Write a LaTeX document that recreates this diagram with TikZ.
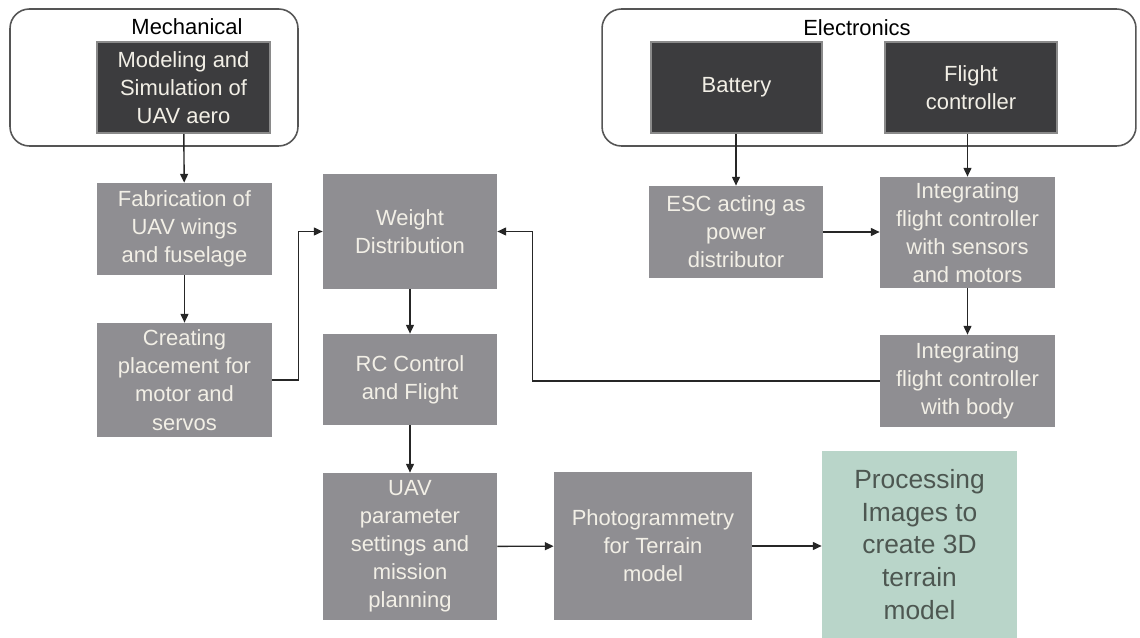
\documentclass[tikz,border=0pt]{standalone}
\usepackage{fontspec}
\setmainfont{Liberation Sans}
\usepackage{tikz}
\usetikzlibrary{arrows.meta,positioning}
\definecolor{boxgrey}{HTML}{8F8E92}
\definecolor{darkfill}{HTML}{3C3C3E}
\definecolor{darkedge}{HTML}{8A8A8A}
\definecolor{boxtext}{HTML}{F2EFE6}
\definecolor{groupline}{HTML}{555555}
\definecolor{procfill}{HTML}{B9D5C9}
\definecolor{proctext}{HTML}{4D5751}

\begin{document}
\begin{tikzpicture}[x=0.02cm,y=-0.02cm,
    group/.style={draw=groupline, line width=0.9pt, rounded corners=11pt},
    darkbox/.style={fill=darkfill, draw=darkedge, line width=1.2pt, text=boxtext, align=center, inner sep=0pt, font=\fontsize{12.5}{16}\selectfont},
    box/.style={fill=boxgrey, text=boxtext, align=center, inner sep=0pt, font=\fontsize{12.5}{16}\selectfont},
    arr/.style={-{Triangle[length=5pt,width=4.5pt]}, line width=0.8pt, black!85}]
    \useasboundingbox (0,0) rectangle (1140,638);
    \node[group, minimum width=5.76cm, minimum height=2.74cm] (mech) at (154,77.5) {};
    \node[group, minimum width=10.68cm, minimum height=2.74cm] (elec) at (869,77.5) {};
    \node[font=\fontsize{12.5}{16}\selectfont] (mechlabel) at (187,27) {Mechanical};
    \node[font=\fontsize{12.5}{16}\selectfont] (eleclabel) at (857,28) {Electronics};
    \node[darkbox, minimum width=3.46cm, minimum height=1.82cm] (model) at (183.5,87.5) {Modeling and\\Simulation of\\UAV aero};
    \node[darkbox, minimum width=3.42cm, minimum height=1.82cm] (battery) at (736.5,87.5) {Battery};
    \node[darkbox, minimum width=3.44cm, minimum height=1.82cm] (flight) at (971,87.5) {Flight\\controller};
    \node[box, minimum width=3.5cm, minimum height=1.84cm] (fab) at (184.5,229) {Fabrication of\\UAV wings\\and fuselage};
    \node[box, minimum width=3.5cm, minimum height=2.28cm] (create) at (184.5,380) {Creating\\placement for\\motor and\\servos};
    \node[box, minimum width=3.48cm, minimum height=2.3cm] (weight) at (410,231.5) {Weight\\Distribution};
    \node[box, minimum width=3.48cm, minimum height=1.82cm] (rc) at (410,379.5) {RC Control\\and Flight};
    \node[box, minimum width=3.48cm, minimum height=2.94cm] (uav) at (410,546.5) {UAV\\parameter\\settings and\\mission\\planning};
    \node[box, minimum width=3.96cm, minimum height=2.96cm] (photo) at (653,546) {Photogrammetry\\for Terrain\\model};
    \node[fill=procfill, text=proctext, align=center, inner sep=0pt, font=\fontsize{15}{18.7}\selectfont, minimum width=3.9cm, minimum height=3.74cm] (proc) at (919.5,544.5) {Processing\\Images to\\create 3D\\terrain\\model};
    \node[box, minimum width=3.48cm, minimum height=1.84cm] (esc) at (736,232) {ESC acting as\\power\\distributor};
    \node[box, minimum width=3.5cm, minimum height=2.22cm] (intsens) at (967.5,232.5) {Integrating\\flight controller\\with sensors\\and motors};
    \node[box, minimum width=3.5cm, minimum height=1.84cm] (intbody) at (967.5,381) {Integrating\\flight controller\\with body};
    \draw[arr] (model) -- (fab);
    \draw[arr] (fab) -- (create);
    \draw[arr] (create.east) -- ++(26,0) |- (weight.west);
    \draw[arr] (weight) -- (rc);
    \draw[arr] (rc) -- (uav);
    \draw[arr] (uav) -- (photo);
    \draw[arr] (photo.east) -- (photo.east -| proc.west);
    \draw[arr] (battery.south -| esc.north) -- (esc.north);
    \draw[arr] (flight.south -| intsens.north) -- (intsens.north);
    \draw[arr] (esc) -- (intsens.west |- esc.east);
    \draw[arr] (intsens) -- (intbody);
    \draw[arr] (intbody.west) -- ++(-347,0) |- (weight.east);
\end{tikzpicture}
\end{document}
